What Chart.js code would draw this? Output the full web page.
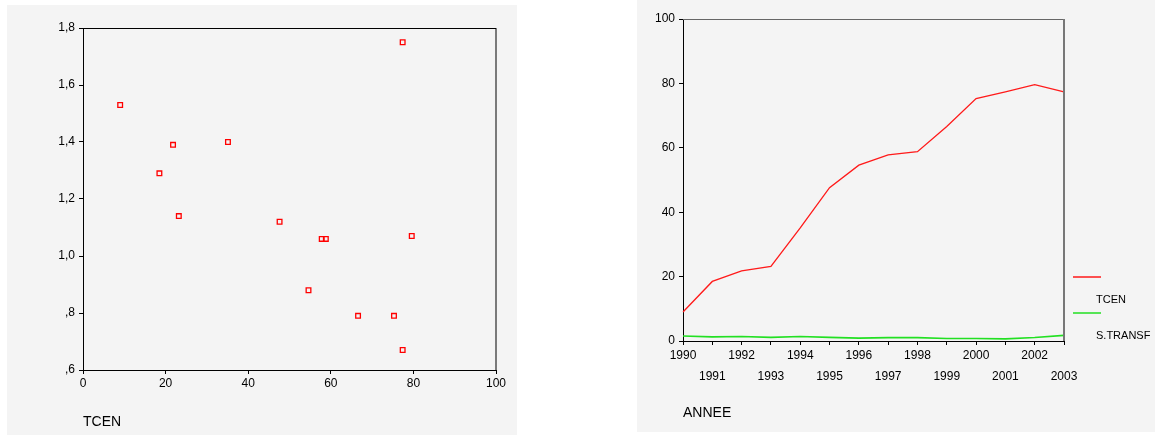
<!DOCTYPE html>
<html>
<head>
<meta charset="utf-8">
<script src="https://cdn.jsdelivr.net/npm/chart.js@4.4.1/dist/chart.umd.min.js"></script>
<style>
  body { margin: 0; background: #fff; }
  .panel { position: absolute; background: #f4f4f4; }
  #left { left: 7px; top: 5px; width: 510px; height: 430px; }
  #right { left: 637px; top: 0px; width: 518px; height: 432px; }
</style>
</head>
<body>
<div class="panel" id="left"><canvas id="scatter" width="510" height="430"></canvas></div>
<div class="panel" id="right"><canvas id="lines" width="518" height="432"></canvas></div>
<script>
// years on the x-axis of the line chart
var years = ['1990', '1991', '1992', '1993', '1994', '1995', '1996',
             '1997', '1998', '1999', '2000', '2001', '2002', '2003'];
// series values, one per year
var tcen = [9.0, 18.5, 21.8, 23.2, 35.1, 47.6, 54.6, 57.8, 58.8, 66.6, 75.3, 77.4, 79.6, 77.4];
var stransf = [1.53, 1.29, 1.39, 1.14, 1.40, 1.12, 0.88, 1.06, 1.06, 0.79, 0.79, 0.67, 1.07, 1.75];

var fontFamily = '"Liberation Sans", Arial, sans-serif';
Chart.defaults.font.family = fontFamily;
Chart.defaults.color = '#000';

// decimal comma, no leading zero: ,6 ,8 1,0 ...
function frLabel(v) {
    var s = v.toFixed(1).replace('.', ',');
    return s.charAt(0) === '0' ? s.substring(1) : s;
}

// box round the plot area
var frame = {
    id: 'frame',
    afterDatasetsDraw: function (chart, args, opts) {
        var a = chart.chartArea, ctx = chart.ctx;
        ctx.save();
        ctx.lineWidth = 1;
        ctx.strokeStyle = opts.topColor;
        ctx.beginPath();
        ctx.moveTo(a.left, a.top + 0.5);
        ctx.lineTo(a.right, a.top + 0.5);
        ctx.stroke();
        ctx.lineWidth = opts.rightWidth;
        ctx.strokeStyle = opts.rightColor;
        ctx.beginPath();
        ctx.moveTo(a.right, a.top);
        ctx.lineTo(a.right, a.bottom);
        ctx.stroke();
        ctx.restore();
    }
};

// legend: a line sample, then its label under it and to the right
var sideLegend = {
    id: 'sideLegend',
    afterDraw: function (chart) {
        var a = chart.chartArea, ctx = chart.ctx;
        var rows = [277, 313];
        ctx.save();
        ctx.font = '11px ' + fontFamily;
        ctx.textBaseline = 'middle';
        ctx.fillStyle = '#000';
        chart.data.datasets.forEach(function (ds, i) {
            ctx.strokeStyle = ds.borderColor;
            ctx.lineWidth = 1.5;
            ctx.beginPath();
            ctx.moveTo(a.right + 9, rows[i]);
            ctx.lineTo(a.right + 37, rows[i]);
            ctx.stroke();
            ctx.fillText(ds.label, a.right + 32, rows[i] + 23);
        });
        ctx.restore();
    }
};

function axisGrid() {
    return { display: true, drawOnChartArea: false, drawTicks: true, tickLength: 4, color: '#000' };
}

var scatterPoints = tcen.map(function (v, i) { return { x: v, y: stransf[i] }; });

new Chart(document.getElementById('scatter'), {
    type: 'scatter',
    data: {
        datasets: [{
            label: 'S.TRANSF',
            data: scatterPoints,
            pointStyle: 'rect',
            pointRadius: 3.3,
            borderWidth: 1.3,
            borderColor: '#ff0000',
            backgroundColor: 'rgba(0,0,0,0)'
        }]
    },
    plugins: [frame],
    options: {
        responsive: false,
        animation: false,
        events: [],
        layout: { padding: { top: 23, right: 21, left: 0, bottom: 0 } },
        plugins: {
            legend: { display: false },
            tooltip: { enabled: false },
            frame: { topColor: '#000', rightColor: '#000', rightWidth: 1 }
        },
        scales: {
            x: {
                min: 0, max: 100,
                ticks: { stepSize: 20, font: { size: 12 }, padding: 2, maxRotation: 0 },
                grid: axisGrid(),
                border: { display: true, color: '#000', width: 1 },
                title: { display: true, text: 'TCEN', align: 'start', font: { size: 14 }, padding: { top: 0, bottom: 4.6 } },
                afterFit: function (s) { s.height = 65; }
            },
            y: {
                min: 0.6, max: 1.8,
                ticks: { stepSize: 0.2, font: { size: 12 }, padding: 4, callback: function (v) { return frLabel(v); } },
                grid: axisGrid(),
                border: { display: true, color: '#000', width: 1 },
                afterFit: function (s) { s.width = 76; }
            }
        }
    }
});

new Chart(document.getElementById('lines'), {
    type: 'line',
    data: {
        labels: years,
        datasets: [{
            label: 'TCEN',
            data: tcen,
            borderColor: '#ff1a1a',
            borderWidth: 1.3,
            pointRadius: 0,
            tension: 0
        }, {
            label: 'S.TRANSF',
            data: stransf,
            borderColor: '#22e022',
            borderWidth: 1.6,
            pointRadius: 0,
            tension: 0
        }]
    },
    plugins: [frame, sideLegend],
    options: {
        responsive: false,
        animation: false,
        events: [],
        layout: { padding: { top: 19, right: 91, left: 0, bottom: 0 } },
        plugins: {
            legend: { display: false },
            tooltip: { enabled: false },
            frame: { topColor: '#666', rightColor: '#777', rightWidth: 2 }
        },
        scales: {
            x: {
                offset: false,
                ticks: {
                    autoSkip: false, maxRotation: 0, padding: 0,
                    font: { size: 12, lineHeight: 1.75 },
                    // even years on the first row, odd years on the second
                    callback: function (v, i) {
                        var lab = this.getLabelForValue(v);
                        return i % 2 === 0 ? [lab] : ['', lab];
                    }
                },
                grid: axisGrid(),
                border: { display: true, color: '#000', width: 1 },
                title: { display: true, text: 'ANNEE', align: 'start', font: { size: 14 }, padding: { top: 0, bottom: 10.9 } },
                afterFit: function (s) { s.height = 91; }
            },
            y: {
                min: 0, max: 100,
                ticks: { stepSize: 20, font: { size: 12 }, padding: 4 },
                grid: axisGrid(),
                border: { display: true, color: '#000', width: 1 },
                afterFit: function (s) { s.width = 46; }
            }
        }
    }
});
</script>
</body>
</html>
